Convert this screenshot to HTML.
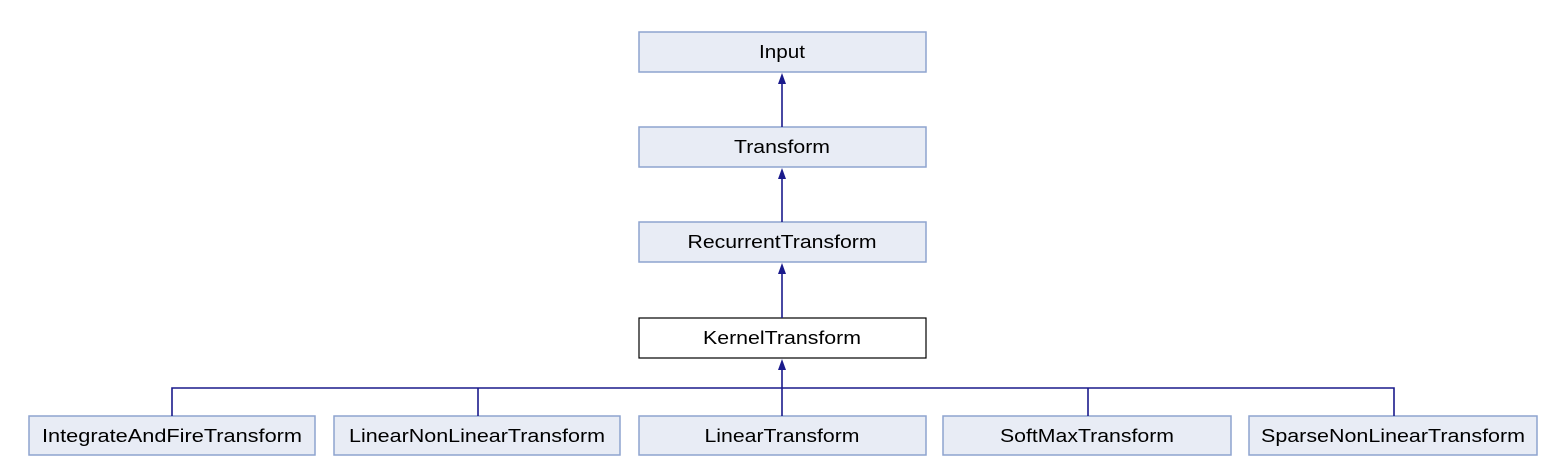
<!DOCTYPE html>
<html><head><meta charset="utf-8"><style>
html,body{margin:0;padding:0;background:#fff;width:1562px;height:476px;overflow:hidden}
svg text{font-family:"Liberation Sans",sans-serif;font-size:18px;fill:#000;text-anchor:middle}
</style></head><body>
<svg width="1562" height="476" xmlns="http://www.w3.org/2000/svg">
<g fill="#e8ecf5" stroke="#8ea4cf" stroke-width="1.5">
<rect x="639" y="32" width="287" height="40"/>
<rect x="639" y="127" width="287" height="40"/>
<rect x="639" y="222" width="287" height="40"/>
<rect x="29" y="416" width="286" height="39"/>
<rect x="334" y="416" width="286" height="39"/>
<rect x="639" y="416" width="287" height="39"/>
<rect x="943" y="416" width="288" height="39"/>
<rect x="1249" y="416" width="288" height="39"/>
</g>
<rect x="639" y="318" width="287" height="40" fill="#fff" stroke="#000" stroke-width="1.2"/>
<g stroke="#1a1a8c" stroke-width="1.6" fill="none">
<line x1="782" y1="127" x2="782" y2="80"/>
<line x1="782" y1="222" x2="782" y2="175"/>
<line x1="782" y1="318" x2="782" y2="270"/>
<line x1="782" y1="416" x2="782" y2="366"/>
<polyline points="172,416 172,388 1394,388 1394,416"/>
<line x1="478" y1="388" x2="478" y2="416"/>
<line x1="1088" y1="388" x2="1088" y2="416"/>
</g>
<g fill="#1a1a8c">
<path d="M778,84 L782,73 L786,84 Z"/>
<path d="M778,179 L782,168 L786,179 Z"/>
<path d="M778,274 L782,263 L786,274 Z"/>
<path d="M778,370 L782,359 L786,370 Z"/>
</g>
<text x="782" y="58" textLength="46" lengthAdjust="spacingAndGlyphs">Input</text>
<text x="782" y="153" textLength="96" lengthAdjust="spacingAndGlyphs">Transform</text>
<text x="782" y="248" textLength="189" lengthAdjust="spacingAndGlyphs">RecurrentTransform</text>
<text x="782" y="344" textLength="158" lengthAdjust="spacingAndGlyphs">KernelTransform</text>
<text x="172" y="442" textLength="260" lengthAdjust="spacingAndGlyphs">IntegrateAndFireTransform</text>
<text x="477" y="442" textLength="256" lengthAdjust="spacingAndGlyphs">LinearNonLinearTransform</text>
<text x="782" y="442" textLength="155" lengthAdjust="spacingAndGlyphs">LinearTransform</text>
<text x="1087" y="442" textLength="174" lengthAdjust="spacingAndGlyphs">SoftMaxTransform</text>
<text x="1393" y="442" textLength="264" lengthAdjust="spacingAndGlyphs">SparseNonLinearTransform</text>
</svg>
</body></html>
